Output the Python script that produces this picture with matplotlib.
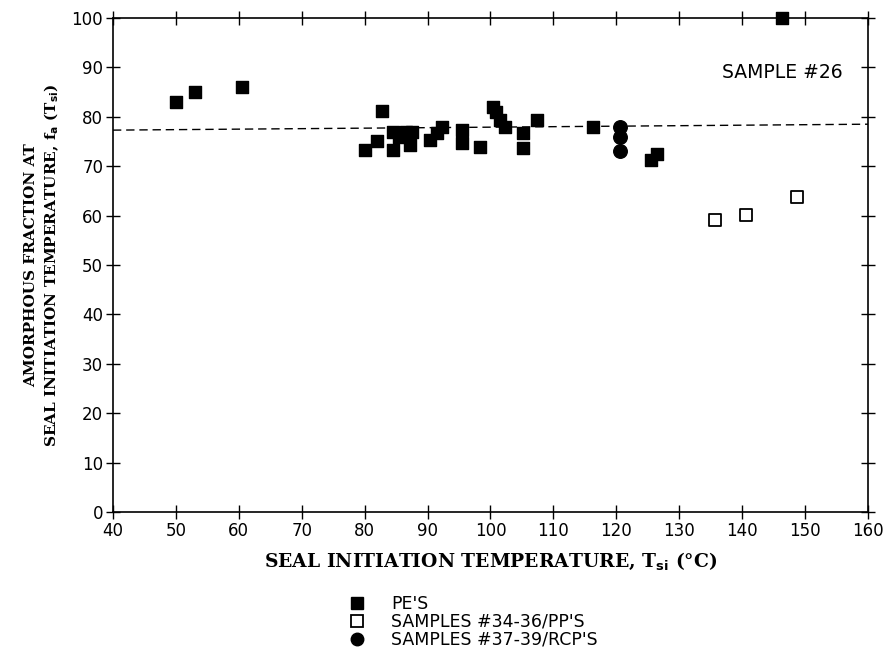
import matplotlib
matplotlib.use("Agg")
import matplotlib.pyplot as plt
from matplotlib.lines import Line2D

# PE's (filled squares)
pe_x = [50, 53, 60.5, 80, 82, 82.8, 84.5, 84.5, 85.5, 86.5, 87.2, 87.5, 90.4, 91.5,
        92.3, 95.5, 95.5, 98.3, 100.4, 100.8, 101.5, 102.3, 105.2, 105.2, 107.4,
        116.3, 125.5, 126.5, 146.4]
pe_y = [83, 85, 86, 73.3, 75, 81.2, 73.3, 77, 76, 77, 74.3, 77, 75.3, 76.7,
        78, 74.7, 77.3, 73.9, 82, 81, 79.4, 78, 73.7, 76.7, 79.4,
        78, 71.3, 72.5, 100]

# samples #34-36 / PP's (open squares)
pp_x = [135.7, 140.6, 148.7]
pp_y = [59.1, 60.1, 63.8]

# samples #37-39 / RCP's (filled circles)
rcp_x = [120.6, 120.6, 120.6]
rcp_y = [78, 76, 73]

# dashed fit line end points
fit_x = [40, 160]
fit_y = [77.3, 78.5]

xticks = list(range(40, 161, 10))
yticks = list(range(0, 101, 10))

fig = plt.figure(figsize=(8.86, 6.54), dpi=100)
ax = fig.add_axes([0.1275, 0.2171, 0.8522, 0.7554])

ax.plot(fit_x, fit_y, color="black", ls=(0, (6, 3.5)), lw=1.0, zorder=2)
ax.scatter(pe_x, pe_y, marker="s", s=85, color="black", zorder=3, clip_on=False)
ax.scatter(pp_x, pp_y, marker="s", s=85, facecolor="white", edgecolor="black",
           lw=1.3, zorder=3)
ax.scatter(rcp_x, rcp_y, marker="o", s=95, color="black", zorder=3)

ax.set_xlim(40, 160)
ax.set_ylim(0, 100)
ax.set_xticks(xticks)
ax.set_yticks(yticks)
ax.tick_params(axis="both", direction="inout", length=10, width=1.0,
               labelsize=12, top=True, right=True, pad=2)
for sp in ax.spines.values():
    sp.set_linewidth(1.2)

ax.text(156, 88.9, "SAMPLE #26", fontsize=13.5, ha="right", va="center")

ax.set_xlabel(r"SEAL INITIATION TEMPERATURE, T$_{\mathbf{si}}$ (°C)",
              family="DejaVu Serif", weight="bold", size=13.5, labelpad=8)
ax.set_ylabel("AMORPHOUS FRACTION AT\n"
              r"SEAL INITIATION TEMPERATURE, f$_{\mathbf{a}}$ (T$_{\mathbf{si}}$)",
              family="DejaVu Serif", weight="bold", size=11, labelpad=8,
              linespacing=1.3)

handles = [
    Line2D([], [], ls="none", marker="s", ms=8, color="black"),
    Line2D([], [], ls="none", marker="s", ms=8, mfc="white", mec="black", mew=1.3),
    Line2D([], [], ls="none", marker="o", ms=9, color="black"),
]
labels = ["PE'S", "SAMPLES #34-36/PP'S", "SAMPLES #37-39/RCP'S"]
fig.legend(handles, labels, loc="upper left", bbox_to_anchor=(0.383, 0.104),
           frameon=False, fontsize=12.5, handletextpad=1.5, labelspacing=0.0,
           borderpad=0, handlelength=1.0)

fig.savefig("out.png", dpi=100)
